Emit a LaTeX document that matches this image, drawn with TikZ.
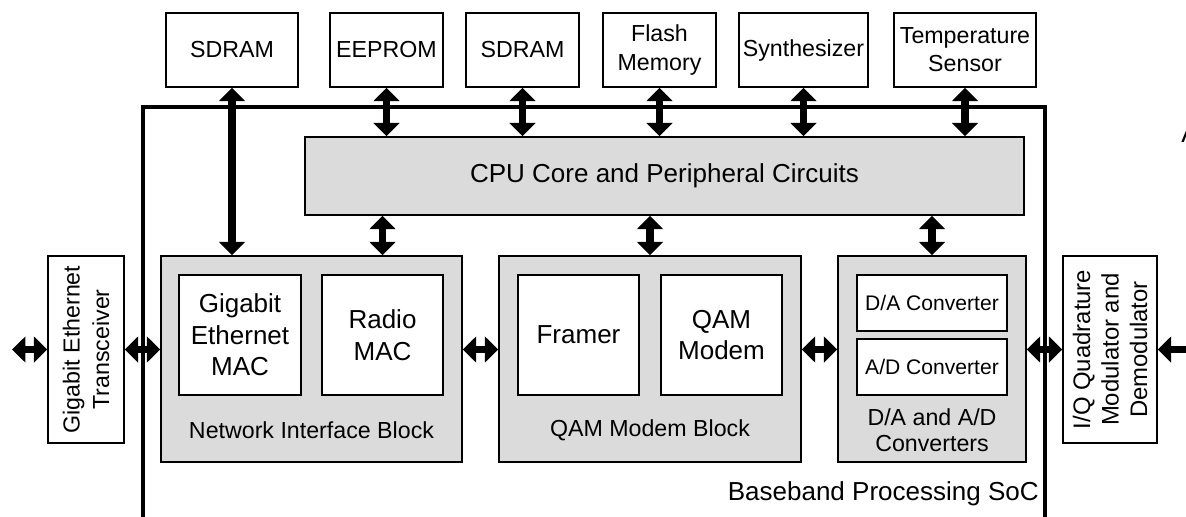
\documentclass[tikz,border=0pt]{standalone}
\usepackage{fontspec}
\setmainfont{Liberation Sans}
\usetikzlibrary{arrows.meta}
\tikzset{
  memblk/.style={draw,line width=1pt,align=center,inner sep=0pt,font=\fontsize{16.5}{20}\selectfont},
  grayblk/.style={draw,line width=1pt,fill=black!14,inner sep=0pt},
  unitblk/.style={draw,line width=1pt,fill=white,align=center,inner sep=0pt,font=\fontsize{18.5}{22.4}\selectfont},
  blklbl/.style={align=center,inner sep=0pt,font=\fontsize{16.5}{18.8}\selectfont},
  sideblk/.style={draw,line width=1pt,rotate=90,align=center,inner sep=0pt,minimum width=4.675cm},
  bus/.style={line width=5.2pt,{Triangle[length=9.5pt,width=18pt]}-{Triangle[length=9.5pt,width=18pt]}},
}
\begin{document}
\begin{tikzpicture}[x=0.025cm,y=-0.025cm]
\clip (0,0) rectangle (1186,516);
% 外付けデバイス
\node[memblk,minimum width=3.3cm,minimum height=1.85cm] (sdramA) at (232,50) {SDRAM};
\node[memblk,minimum width=2.825cm,minimum height=1.85cm] (eeprom) at (386.5,50) {EEPROM};
\node[memblk,minimum width=2.825cm,minimum height=1.85cm] (sdramB) at (522.5,50) {SDRAM};
\node[memblk,minimum width=2.825cm,minimum height=1.85cm] (flash) at (659.5,50) {Flash\\Memory};
\node[memblk,minimum width=3.225cm,minimum height=1.85cm] (synth) at (803.5,50) {Synthesizer};
\node[memblk,minimum width=3.55cm,minimum height=1.85cm] (temp) at (965,50) {Temperature\\Sensor};
% SoC
\draw[line width=2.2pt] (143,560) -- (143,107) -- (1045,107) -- (1045,560);
\node[anchor=east,inner sep=0pt,font=\fontsize{18.5}{22}\selectfont] (soclbl) at (1039,494) {Baseband Processing SoC};
% CPU
\node[grayblk,minimum width=17.975cm,minimum height=1.95cm,font=\fontsize{18.5}{22}\selectfont] (cpu) at (664.5,176) {CPU Core and Peripheral Circuits};
% ブロック
\node[grayblk,minimum width=7.525cm,minimum height=5.15cm] (net) at (311.5,359) {};
\node[grayblk,minimum width=7.55cm,minimum height=5.15cm] (qam) at (650,359) {};
\node[grayblk,minimum width=4.7cm,minimum height=5.15cm] (conv) at (932,359) {};
\node[unitblk,minimum width=3.05cm,minimum height=3cm] (gbemac) at (240,335) {Gigabit\\Ethernet\\MAC};
\node[unitblk,minimum width=3.025cm,minimum height=3cm] (radio) at (382.5,335) {Radio\\MAC};
\node[unitblk,minimum width=3.025cm,minimum height=3cm] (framer) at (578.5,335) {Framer};
\node[unitblk,minimum width=3.025cm,minimum height=3cm] (modem) at (721.5,335) {QAM\\Modem};
\node[unitblk,minimum width=3.75cm,minimum height=1.4cm,font=\fontsize{15}{18}\selectfont] (dac) at (932,303) {D/A Converter};
\node[unitblk,minimum width=3.75cm,minimum height=1.4cm,font=\fontsize{15}{18}\selectfont] (adc) at (932,367) {A/D Converter};
\node[blklbl] (netlbl) at (311.5,430) {Network Interface Block};
\node[blklbl] (qamlbl) at (650,430) {QAM Modem Block};
\node[blklbl] (convlbl) at (932,430) {D/A and A/D\\Converters};
% 外部インタフェース
\node[sideblk,minimum height=1.9cm,font=\fontsize{16.5}{21}\selectfont] (trx) at (86,349.5) {Gigabit Ethernet\\Transceiver};
\node[sideblk,minimum height=2.35cm,font=\fontsize{17}{20.3}\selectfont] (iq) at (1110,349.5) {I/Q Quadrature\\Modulator and\\Demodulator};
\node[anchor=base west,inner sep=0pt,font=\fontsize{18.5}{22}\selectfont] (cutA) at (1181,142) {A};
\coordinate (extL) at (12,349.5);
\coordinate (extR) at (1215,349.5);
% 矢印
\draw[bus] (sdramA.south) -- (sdramA.south |- net.north);
\foreach \m in {eeprom,sdramB,flash,synth,temp}
  \draw[bus] (\m.south) -- (\m.south |- cpu.north);
\draw[bus] (radio.north |- cpu.south) -- (radio.north |- net.north);
\draw[bus] (qam.north |- cpu.south) -- (qam.north);
\draw[bus] (conv.north |- cpu.south) -- (conv.north);
\draw[bus] (extL) -- (trx.north);
\draw[bus] (trx.south) -- (trx.south -| net.west);
\draw[bus] (trx.south -| net.east) -- (trx.south -| qam.west);
\draw[bus] (trx.south -| qam.east) -- (trx.south -| conv.west);
\draw[bus] (trx.south -| conv.east) -- (iq.north);
\draw[bus] (iq.south) -- (extR);
\end{tikzpicture}
\end{document}
